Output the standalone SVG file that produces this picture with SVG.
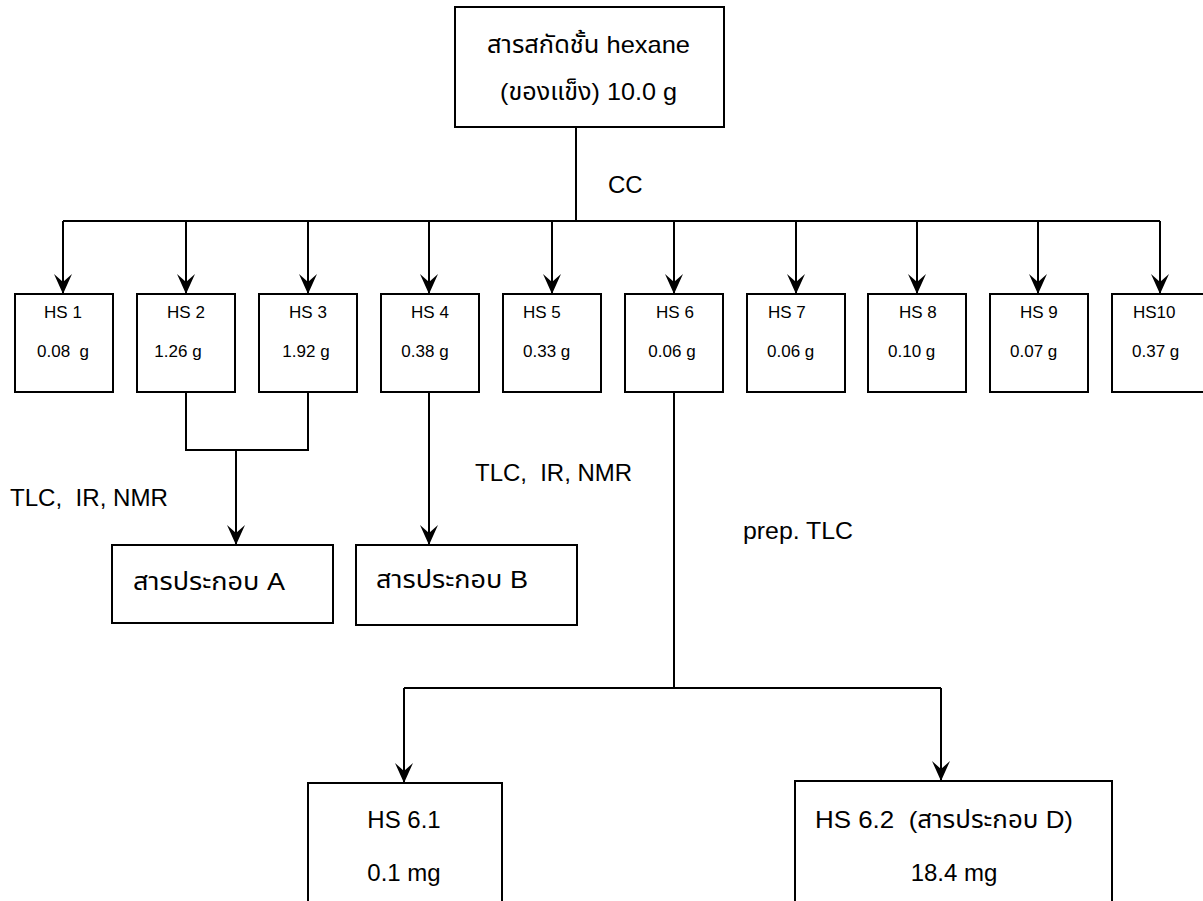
<svg xmlns="http://www.w3.org/2000/svg" width="1203" height="901" viewBox="0 0 1203 901">
<style>
.box{fill:#fff;stroke:#000;stroke-width:2}
.ln{fill:none;stroke:#000;stroke-width:2}
.arr{marker-end:url(#ah)}
text{font-family:"Liberation Sans","Noto Sans Thai","Noto Sans",Arial,sans-serif;fill:#000}
.big{font-size:24px}
.lbl{font-size:24px}
.sm{font-size:17px}
.mid{text-anchor:middle}
</style>
<defs>
<marker id="ah" markerUnits="userSpaceOnUse" markerWidth="24" markerHeight="22" viewBox="-20 -11 24 22" refX="0" refY="0" orient="auto" overflow="visible">
<path d="M0,0 L-20,-9 L-12,0 L-20,9 Z" fill="#000"/>
</marker>
</defs>
<rect width="1203" height="901" fill="#fff"/>
<g id="connectors">
<path class="ln" d="M576,127 V221"/>
<path class="ln" d="M63,221 H1160"/>
<path class="ln arr" d="M63,221 V294"/>
<path class="ln arr" d="M186,221 V294"/>
<path class="ln arr" d="M308,221 V294"/>
<path class="ln arr" d="M429,221 V294"/>
<path class="ln arr" d="M552,221 V294"/>
<path class="ln arr" d="M674,221 V294"/>
<path class="ln arr" d="M796,221 V294"/>
<path class="ln arr" d="M917,221 V294"/>
<path class="ln arr" d="M1038,221 V294"/>
<path class="ln arr" d="M1160,221 V294"/>
<path class="ln" d="M186,392 V450 H308 V392"/>
<path class="ln arr" d="M236,450 V545"/>
<path class="ln arr" d="M429,392 V545"/>
<path class="ln" d="M674,392 V688"/>
<path class="ln" d="M404,688 H941"/>
<path class="ln arr" d="M404,688 V783"/>
<path class="ln arr" d="M941,688 V781"/>
<text class="lbl" x="608" y="193">CC</text>
<text class="lbl" x="10" y="506" textLength="158" lengthAdjust="spacingAndGlyphs">TLC,&#160; IR, NMR</text>
<text class="lbl" x="475" y="481" textLength="157" lengthAdjust="spacingAndGlyphs">TLC,&#160; IR, NMR</text>
<text class="lbl" x="743" y="539" textLength="110" lengthAdjust="spacingAndGlyphs">prep. TLC</text>
</g>
<g id="top">
<rect class="box" x="455" y="7" width="269" height="120"/>
<text class="big" x="487" y="53" textLength="203" lengthAdjust="spacingAndGlyphs">สารสกัดชั้น hexane</text>
<text class="big" x="500" y="100" textLength="177" lengthAdjust="spacingAndGlyphs">(ของแข็ง) 10.0 g</text>
</g>
<g id="hs1"><rect class="box" x="15" y="294" width="98" height="98"/><text class="sm mid" x="63" y="318">HS 1</text><text class="sm mid" x="63" y="357">0.08&#160; g</text></g>
<g id="hs2"><rect class="box" x="137" y="294" width="98" height="98"/><text class="sm mid" x="186" y="318">HS 2</text><text class="sm mid" x="178" y="357">1.26 g</text></g>
<g id="hs3"><rect class="box" x="259" y="294" width="98" height="98"/><text class="sm mid" x="308" y="318">HS 3</text><text class="sm mid" x="306" y="357">1.92 g</text></g>
<g id="hs4"><rect class="box" x="381" y="294" width="98" height="98"/><text class="sm mid" x="430" y="318">HS 4</text><text class="sm mid" x="425" y="357">0.38 g</text></g>
<g id="hs5"><rect class="box" x="503" y="294" width="98" height="98"/><text class="sm" x="523" y="318">HS 5</text><text class="sm" x="523" y="357">0.33 g</text></g>
<g id="hs6"><rect class="box" x="625" y="294" width="98" height="98"/><text class="sm mid" x="675" y="318">HS 6</text><text class="sm mid" x="672" y="357">0.06 g</text></g>
<g id="hs7"><rect class="box" x="747" y="294" width="98" height="98"/><text class="sm" x="768" y="318">HS 7</text><text class="sm" x="767" y="357">0.06 g</text></g>
<g id="hs8"><rect class="box" x="868" y="294" width="98" height="98"/><text class="sm" x="899" y="318">HS 8</text><text class="sm" x="888" y="357">0.10 g</text></g>
<g id="hs9"><rect class="box" x="990" y="294" width="98" height="98"/><text class="sm" x="1020" y="318">HS 9</text><text class="sm" x="1010" y="357">0.07 g</text></g>
<g id="hs10"><rect class="box" x="1112" y="294" width="98" height="98"/><text class="sm" x="1133" y="318">HS10</text><text class="sm" x="1132" y="357">0.37 g</text></g>
<g id="compA"><rect class="box" x="112" y="545" width="221" height="78"/><text class="lbl" x="133" y="590" textLength="152" lengthAdjust="spacingAndGlyphs">สารประกอบ A</text></g>
<g id="compB"><rect class="box" x="356" y="545" width="221" height="80"/><text class="lbl" x="376" y="588" textLength="152" lengthAdjust="spacingAndGlyphs">สารประกอบ B</text></g>
<g id="hs61"><rect class="box" x="308" y="783" width="194" height="130"/><text class="big mid" x="404" y="828">HS 6.1</text><text class="big mid" x="404" y="881">0.1 mg</text></g>
<g id="hs62"><rect class="box" x="795" y="781" width="317" height="130"/><text class="big" x="815" y="828" textLength="258" lengthAdjust="spacingAndGlyphs">HS 6.2&#160; (สารประกอบ D)</text><text class="big mid" x="954" y="881">18.4 mg</text></g>
</svg>
